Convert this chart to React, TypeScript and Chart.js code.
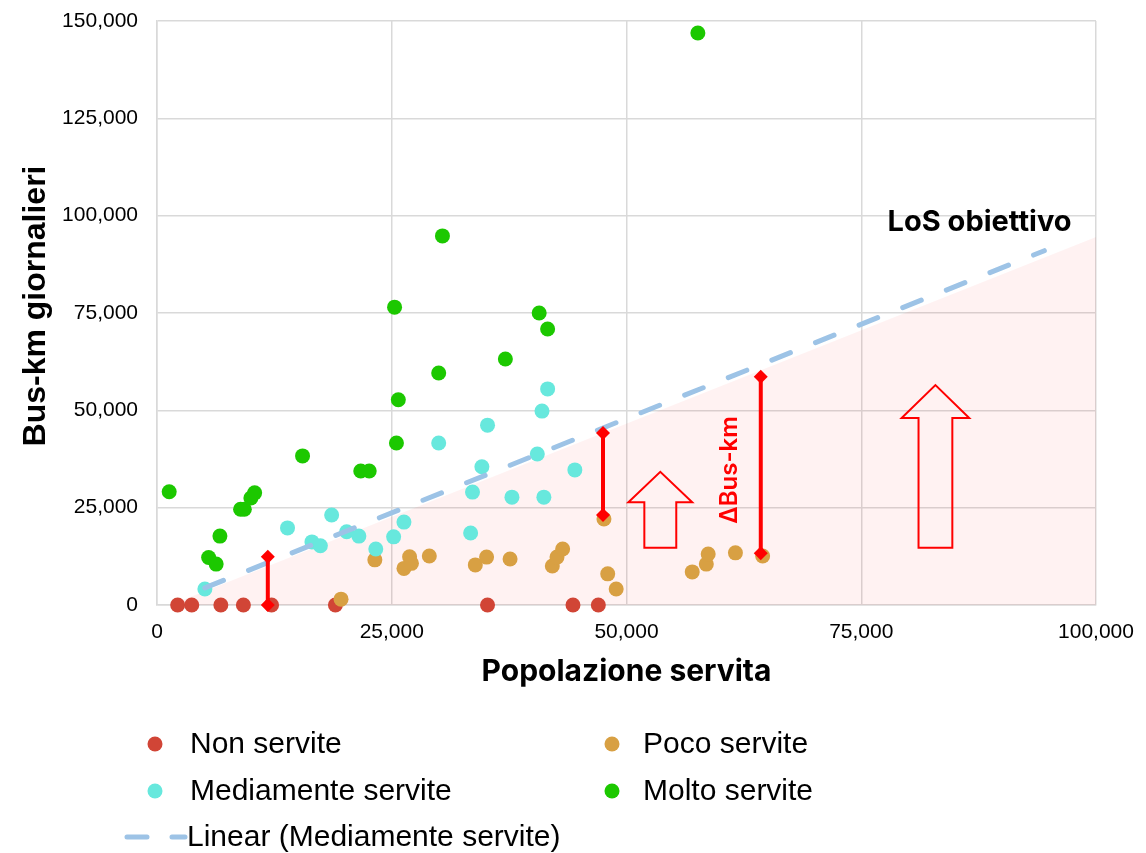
import React, { useEffect, useRef } from "react";
import { Chart, registerables } from "chart.js";

Chart.register(...registerables);

// ---------- DATA ----------
const SERIES_NAMES = ["Non servite", "Poco servite", "Mediamente servite", "Molto servite"];
const TREND_NAME = "Linear (Mediamente servite)";

const NON_X = [2200, 3700, 6800, 9200, 12200, 19000, 35200, 44300, 47000];
const NON_Y = [0, 0, 0, 0, 0, 0, 0, 0, 0];

const POCO_X = [19600, 23200, 26300, 26900, 27100, 29000, 33900, 35100, 37600, 42100, 42600, 43200, 47600, 48000, 48900, 57000, 58500, 58700, 61600, 64500];
const POCO_Y = [1500, 11600, 9400, 12400, 10700, 12600, 10300, 12300, 11800, 10000, 12300, 14400, 22100, 8000, 4100, 8500, 10500, 13100, 13400, 12600];

const MEDI_X = [5100, 13900, 16500, 17400, 18600, 20200, 21500, 23300, 25200, 26300, 30000, 33400, 33600, 34600, 35200, 37800, 40500, 41000, 41200, 41600, 44500];
const MEDI_Y = [4100, 19800, 16200, 15200, 23100, 18800, 17700, 14400, 17500, 21300, 41600, 18500, 29000, 35500, 46200, 27700, 38800, 49800, 27700, 55500, 34700];

const MOLTO_X = [1300, 5500, 6300, 6700, 8900, 9300, 10000, 10400, 15500, 21700, 22600, 25300, 25500, 25700, 30000, 30400, 37100, 40700, 41600, 57600];
const MOLTO_Y = [29100, 12200, 10500, 17700, 24600, 24600, 27500, 28800, 38300, 34400, 34400, 76500, 41600, 52700, 59600, 94800, 63200, 75000, 70900, 146900];

const TREND_X = [5100, 94500];
const TREND_Y = [4400, 91000];

const TARGET_X = [1400, 100000];
const TARGET_Y = [0, 94500];

const GAP_X = [11800, 47500, 64300];
const GAP_LOW = [0, 23100, 13300];
const GAP_HIGH = [12400, 44200, 58600];

// arrows: centre x, shaft half width, head half width, bottom, head base, tip
const ARROW_X = [53600, 82900];
const ARROW_SHAFT = [1700, 1800];
const ARROW_HEAD = [3400, 3600];
const ARROW_BOTTOM = [14700, 14700];
const ARROW_HEADBASE = [26400, 48000];
const ARROW_TIP = [34200, 56500];

const LOS_LABEL = "LoS obiettivo";
const LOS_POS = [87600, 98400];
const DELTA_LABEL = "ΔBus-km";
const DELTA_POS = [61000, 34700];

const X_TICKS = [0, 25000, 50000, 75000, 100000];
const X_TICK_LABELS = ["0", "25,000", "50,000", "75,000", "100,000"];
const Y_TICKS = [0, 25000, 50000, 75000, 100000, 125000, 150000];
const Y_TICK_LABELS = ["0", "25,000", "50,000", "75,000", "100,000", "125,000", "150,000"];

const X_TITLE = "Popolazione servita";
const Y_TITLE = "Bus-km giornalieri";

// ---------- STYLE ----------
const C_NON = "#D14536";
const C_POCO = "#D8A043";
const C_MEDI = "#67E8DD";
const C_MOLTO = "#1CC800";
const C_TREND = "#9DC3E6";
const C_RED = "#FF0000";
const GRID = "#D9D9D9";
const ARIAL = "'Liberation Sans', Arial, sans-serif";
const INTER = "Inter, 'Noto Sans', sans-serif";

const zip = (xs: number[], ys: number[]) => xs.map((x, i) => ({ x, y: ys[i] }));

const annotPlugin = {
  id: "annot",
  afterDatasetsDraw(chart: any) {
    const { ctx, scales } = chart;
    const xs = scales.x;
    const ys = scales.y;
    ctx.save();
    ARROW_X.forEach((cx, i) => {
      const pts = [
        [cx - ARROW_SHAFT[i], ARROW_BOTTOM[i]],
        [cx - ARROW_SHAFT[i], ARROW_HEADBASE[i]],
        [cx - ARROW_HEAD[i], ARROW_HEADBASE[i]],
        [cx, ARROW_TIP[i]],
        [cx + ARROW_HEAD[i], ARROW_HEADBASE[i]],
        [cx + ARROW_SHAFT[i], ARROW_HEADBASE[i]],
        [cx + ARROW_SHAFT[i], ARROW_BOTTOM[i]],
      ];
      ctx.beginPath();
      pts.forEach(([px, py], k) => {
        const X = xs.getPixelForValue(px);
        const Y = ys.getPixelForValue(py);
        if (k === 0) ctx.moveTo(X, Y);
        else ctx.lineTo(X, Y);
      });
      ctx.closePath();
      ctx.strokeStyle = C_RED;
      ctx.lineWidth = 2;
      ctx.lineJoin = "miter";
      ctx.stroke();
    });
    ctx.fillStyle = "#000";
    ctx.font = `700 29px ${INTER}`;
    ctx.textAlign = "center";
    ctx.textBaseline = "middle";
    ctx.fillText(LOS_LABEL, xs.getPixelForValue(LOS_POS[0]), ys.getPixelForValue(LOS_POS[1]));
    ctx.save();
    ctx.translate(xs.getPixelForValue(DELTA_POS[0]), ys.getPixelForValue(DELTA_POS[1]));
    ctx.rotate(-Math.PI / 2);
    ctx.fillStyle = C_RED;
    ctx.font = `600 24px ${INTER}`;
    ctx.textAlign = "center";
    ctx.textBaseline = "middle";
    ctx.fillText(DELTA_LABEL, 0, 0);
    ctx.restore();
    ctx.restore();
  },
};

const yTitlePlugin = {
  id: "yTitle",
  afterDraw(chart: any) {
    const { ctx, chartArea } = chart;
    ctx.save();
    ctx.translate(36, (chartArea.top + chartArea.bottom) / 2 - 7);
    ctx.rotate(-Math.PI / 2);
    ctx.fillStyle = "#000";
    ctx.font = `bold 32px ${ARIAL}`;
    ctx.textAlign = "center";
    ctx.textBaseline = "middle";
    ctx.fillText(Y_TITLE, 0, 0);
    ctx.restore();
  },
};

const legendPlugin = {
  id: "customLegend",
  afterDraw(chart: any) {
    const { ctx } = chart;
    const colors = [C_NON, C_POCO, C_MEDI, C_MOLTO];
    const colX = [155, 612];
    const textX = [190, 643];
    const rowY = [744, 791, 837];
    ctx.save();
    ctx.font = `30px ${ARIAL}`;
    ctx.textBaseline = "middle";
    ctx.textAlign = "left";
    SERIES_NAMES.forEach((name, i) => {
      const col = i % 2;
      const row = Math.floor(i / 2);
      ctx.beginPath();
      ctx.arc(colX[col], rowY[row], 7.5, 0, Math.PI * 2);
      ctx.fillStyle = colors[i];
      ctx.fill();
      ctx.fillStyle = "#000";
      ctx.fillText(name, textX[col], rowY[row] + 1);
    });
    ctx.beginPath();
    ctx.setLineDash([20, 25]);
    ctx.lineCap = "round";
    ctx.lineWidth = 5;
    ctx.strokeStyle = C_TREND;
    ctx.moveTo(127, rowY[2]);
    ctx.lineTo(185, rowY[2]);
    ctx.stroke();
    ctx.setLineDash([]);
    ctx.fillStyle = "#000";
    ctx.fillText(TREND_NAME, 187, rowY[2] + 1);
    ctx.restore();
  },
};

export default function App() {
  const ref = useRef<HTMLCanvasElement | null>(null);

  useEffect(() => {
    if (!ref.current) return;
    const gapDatasets = GAP_X.map((gx, i) => ({
      type: "line" as const,
      label: "gap" + i,
      data: [
        { x: gx, y: GAP_LOW[i] },
        { x: gx, y: GAP_HIGH[i] },
      ],
      borderColor: C_RED,
      backgroundColor: C_RED,
      borderWidth: 4,
      pointStyle: "rectRot",
      pointRadius: 7,
      pointBorderWidth: 0,
      showLine: true,
      fill: false,
      order: 0,
    }));

    const scatter = (label: string, xs: number[], ys: number[], color: string, order: number) => ({
      type: "scatter" as const,
      label,
      data: zip(xs, ys),
      backgroundColor: color,
      borderColor: color,
      borderWidth: 0,
      pointRadius: 7.5,
      pointHoverRadius: 7.5,
      order,
    });

    const chart = new Chart(ref.current, {
      type: "scatter",
      data: {
        datasets: [
          ...gapDatasets,
          {
            type: "line",
            label: TREND_NAME,
            data: zip(TREND_X, TREND_Y),
            borderColor: C_TREND,
            borderWidth: 5,
            borderDash: [20, 27],
            borderCapStyle: "round",
            pointRadius: 0,
            showLine: true,
            fill: false,
            order: 1,
          },
          scatter(SERIES_NAMES[3], MOLTO_X, MOLTO_Y, C_MOLTO, 2),
          scatter(SERIES_NAMES[2], MEDI_X, MEDI_Y, C_MEDI, 3),
          scatter(SERIES_NAMES[1], POCO_X, POCO_Y, C_POCO, 4),
          scatter(SERIES_NAMES[0], NON_X, NON_Y, C_NON, 5),
          {
            type: "line",
            label: "target",
            data: zip(TARGET_X, TARGET_Y),
            borderWidth: 0,
            borderColor: "rgba(0,0,0,0)",
            backgroundColor: "rgba(255,0,0,0.05)",
            pointRadius: 0,
            showLine: true,
            fill: "origin",
            order: 10,
          },
        ] as any,
      },
      options: {
        responsive: false,
        animation: false,
        events: [],
        clip: false as any,
        layout: { padding: { left: 0, right: 50, top: 21, bottom: 158 } },
        plugins: {
          legend: { display: false },
          tooltip: { enabled: false },
        },
        scales: {
          x: {
            type: "linear",
            min: 0,
            max: 100000,
            afterFit: (s: any) => {
              s.height = 90;
              s.paddingLeft = 0;
              s.paddingRight = 0;
            },
            afterBuildTicks: (s: any) => {
              s.ticks = X_TICKS.map((v) => ({ value: v }));
            },
            ticks: {
              padding: 15,
              maxRotation: 0,
              autoSkip: false,
              color: "#000",
              font: { family: ARIAL, size: 21 },
              callback: (_v: any, i: number) => X_TICK_LABELS[i],
            },
            grid: { color: GRID, lineWidth: 1.5, drawTicks: false },
            border: { color: GRID, width: 1.5 },
            title: {
              display: true,
              text: X_TITLE,
              color: "#000",
              font: { family: INTER, size: 30, weight: "bold" },
              padding: { top: 0, bottom: 5 },
            },
          },
          y: {
            type: "linear",
            min: 0,
            max: 150000,
            afterFit: (s: any) => {
              s.width = 157;
              s.paddingTop = 0;
              s.paddingBottom = 0;
            },
            afterBuildTicks: (s: any) => {
              s.ticks = Y_TICKS.map((v) => ({ value: v }));
            },
            ticks: {
              padding: 19,
              autoSkip: false,
              color: "#000",
              font: { family: ARIAL, size: 21 },
              callback: (_v: any, i: number) => Y_TICK_LABELS[i],
            },
            grid: { color: GRID, lineWidth: 1.5, drawTicks: false },
            border: { color: GRID, width: 1.5 },
            title: { display: false },
          },
        },
      },
      plugins: [annotPlugin, yTitlePlugin, legendPlugin],
    });
    return () => chart.destroy();
  }, []);

  return (
    <div style={{ position: "fixed", left: 0, top: 0, width: 1146, height: 853, background: "#fff" }}>
      <canvas ref={ref} width={1146} height={853} />
    </div>
  );
}
